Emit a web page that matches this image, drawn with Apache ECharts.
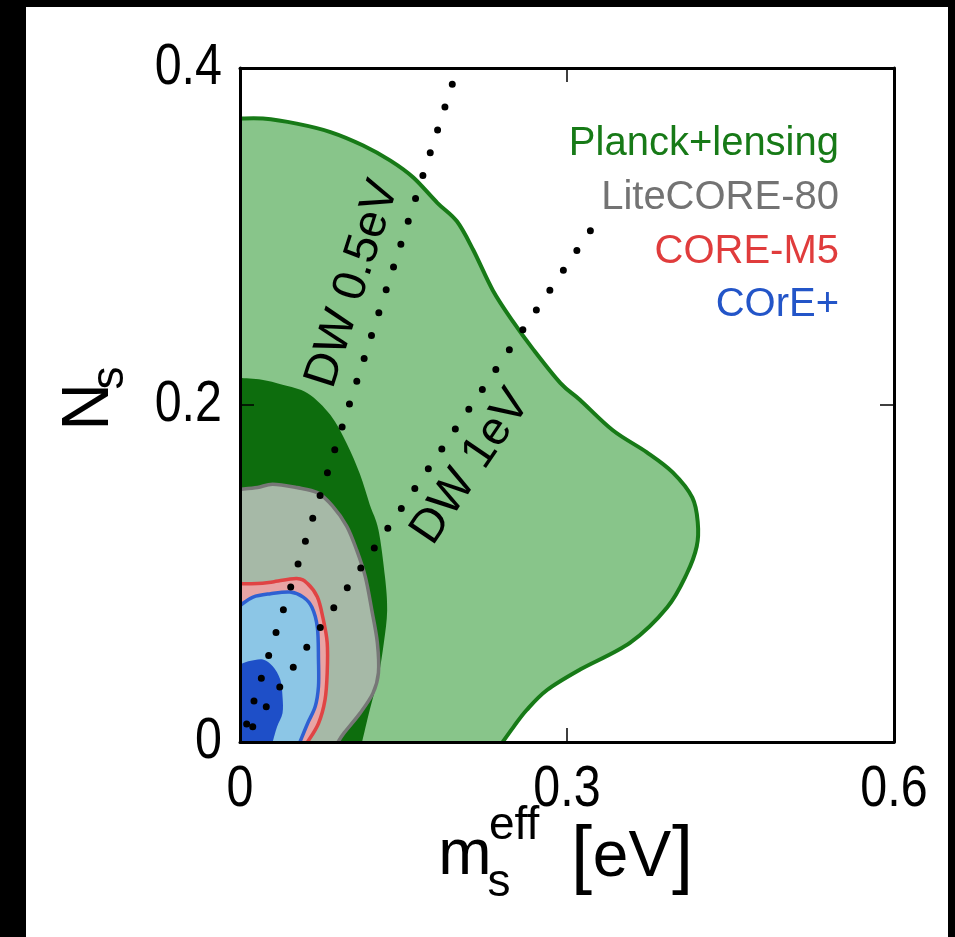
<!DOCTYPE html>
<html>
<head>
<meta charset="utf-8">
<script src="https://cdn.jsdelivr.net/npm/echarts@6/dist/echarts.min.js"></script>
<style>
  html, body { margin: 0; padding: 0; background: #000; width: 955px; height: 937px; overflow: hidden; }
  #main { position: absolute; left: 26px; top: 7px; width: 922px; height: 930px; background: #fff; }
</style>
</head>
<body>
<div id="main"></div>
<script>
// ---- tick labels ----
const xTicks = [0, 0.3, 0.6];
const yTicks = [0, 0.2, 0.4];

// ---- contour boundaries [m_s^eff, N_s] (from left axis to bottom axis) ----
const planck95 = [[0,0.370],[0.021,0.370],[0.052,0.367],[0.083,0.362],[0.113,0.354],[0.138,0.345],[0.159,0.335],[0.181,0.320],[0.199,0.309],[0.214,0.292],[0.232,0.268],[0.251,0.249],[0.269,0.233],[0.294,0.213],[0.312,0.203],[0.342,0.185],[0.373,0.172],[0.397,0.160],[0.415,0.145],[0.420,0.130],[0.419,0.116],[0.410,0.100],[0.392,0.080],[0.358,0.059],[0.312,0.043],[0.282,0.031],[0.263,0.019],[0.251,0.009],[0.241,0]];
const planck68 = [[0,0.216],[0.020,0.215],[0.039,0.212],[0.062,0.207],[0.083,0.194],[0.098,0.177],[0.110,0.159],[0.119,0.141],[0.127,0.126],[0.133,0.098],[0.135,0.078],[0.132,0.059],[0.127,0.039],[0.119,0.019],[0.112,0]];
const liteCore = [[0,0.150],[0.016,0.151],[0.030,0.153],[0.052,0.151],[0.071,0.148],[0.085,0.140],[0.098,0.128],[0.107,0.114],[0.115,0.098],[0.121,0.078],[0.126,0.059],[0.127,0.041],[0.122,0.029],[0.110,0.017],[0.095,0.005],[0.090,0]];
const coreM5 = [[0,0.094],[0.016,0.094],[0.030,0.095],[0.052,0.097],[0.062,0.094],[0.071,0.086],[0.076,0.074],[0.080,0.059],[0.080,0.041],[0.078,0.025],[0.072,0.011],[0.062,0]];
const corePlus95 = [[0,0.081],[0.012,0.086],[0.028,0.088],[0.046,0.089],[0.058,0.086],[0.066,0.080],[0.071,0.068],[0.072,0.049],[0.072,0.033],[0.069,0.021],[0.062,0.011],[0.055,0]];
const corePlus68 = [[0,0.046],[0.009,0.048],[0.021,0.049],[0.030,0.045],[0.037,0.037],[0.039,0.027],[0.039,0.017],[0.034,0.009],[0.030,0]];

// ---- Dodelson-Widrow lines ----
const dw05 = [[0.0061,0.0107],[0.1948,0.3905]];
const dw1  = [[0.0117,0.0091],[0.3218,0.3038]];

// ---- legend ----
const legendNames = ['Planck+lensing', 'LiteCORE-80', 'CORE-M5', 'COrE+'];
const legendColors = ['#177a17', '#737373', '#e03c3c', '#2355c8'];

function bezierPath(pts, close, corner) {
  let d = 'M' + pts[0][0] + ' ' + pts[0][1];
  for (let i = 0; i < pts.length - 1; i++) {
    const p0 = pts[i - 1] || pts[i], p1 = pts[i], p2 = pts[i + 1], p3 = pts[i + 2] || pts[i + 1];
    const c1 = [p1[0] + (p2[0] - p0[0]) / 6, p1[1] + (p2[1] - p0[1]) / 6];
    const c2 = [p2[0] - (p3[0] - p1[0]) / 6, p2[1] - (p3[1] - p1[1]) / 6];
    d += ' C' + c1[0] + ' ' + c1[1] + ' ' + c2[0] + ' ' + c2[1] + ' ' + p2[0] + ' ' + p2[1];
  }
  if (close) d += ' L' + corner[0] + ' ' + corner[1] + ' Z';
  return d;
}

function contourSeries(name, pts, fill, stroke, width, z) {
  return {
    type: 'custom', name: name, coordinateSystem: 'cartesian2d', z: z,
    data: [0], silent: true,
    renderItem: function (params, api) {
      const px = pts.map(p => api.coord(p));
      const corner = api.coord([xTicks[0], yTicks[0]]);
      const children = [{
        type: 'path', shape: { pathData: bezierPath(px, true, corner) },
        style: { fill: fill, stroke: null }
      }];
      if (stroke) children.push({
        type: 'path', shape: { pathData: bezierPath(px, false) },
        style: { fill: null, stroke: stroke, lineWidth: width, lineJoin: 'round' }
      });
      return { type: 'group', children: children };
    }
  };
}

const chart = echarts.init(document.getElementById('main'), null, { renderer: 'canvas' });
const sans = '"Liberation Sans", Arial, sans-serif';

function axisCommon(extra) {
  return Object.assign({
    type: 'value', z: 10,
    axisLine: { show: true, onZero: false, lineStyle: { color: '#000', width: 3 } },
    axisTick: { show: true, inside: true, length: 14, lineStyle: { color: '#000', width: 1.5 } },
    splitLine: { show: false },
    axisLabel: { show: false }
  }, extra);
}

const lineDot = (data) => ({
  type: 'line', data: data, symbol: 'none', z: 5, silent: true,
  lineStyle: { color: '#000', width: 7, type: [0, 24], cap: 'round' }
});

const txt = (t, x, y, size, color, align, rot, sx) => ({
  type: 'text', x: x, y: y, rotation: rot || 0, scaleX: sx || 1, z: 100,
  style: { text: t, fontSize: size, fontFamily: sans, fill: color || '#000', align: align || 'center', verticalAlign: 'middle' }
});

chart.setOption({
  animation: false,
  backgroundColor: '#fff',
  grid: { left: 214, right: 54, top: 61, bottom: 195, containLabel: false },
  xAxis: [
    axisCommon({ position: 'bottom', min: xTicks[0], max: xTicks[2], interval: xTicks[1] - xTicks[0] }),
    axisCommon({ position: 'top', min: xTicks[0], max: xTicks[2], interval: xTicks[1] - xTicks[0] })
  ],
  yAxis: [
    axisCommon({ position: 'left', min: yTicks[0], max: yTicks[2], interval: yTicks[1] - yTicks[0] }),
    axisCommon({ position: 'right', min: yTicks[0], max: yTicks[2], interval: yTicks[1] - yTicks[0] })
  ],
  series: [
    contourSeries('Planck 95', planck95, '#88c58a', '#177a17', 4, 1),
    contourSeries('Planck 68', planck68, '#0d6d0d', null, 0, 1),
    contourSeries('LiteCORE', liteCore, '#a6b9a7', '#777777', 3.5, 1),
    contourSeries('CORE-M5', coreM5, '#e8a4a4', '#e04444', 3.5, 1),
    contourSeries('COrE+ 95', corePlus95, '#8cc6e6', '#2e60d2', 3.5, 1),
    contourSeries('COrE+ 68', corePlus68, '#1e4fc8', null, 0, 1),
    lineDot(dw05),
    lineDot(dw1)
  ]
});

// tick labels placed through the axes' own scales (narrow lettering)
const toPx = (v) => chart.convertToPixel({ xAxisIndex: 0, yAxisIndex: 0 }, v);
const tickTexts = [];
xTicks.forEach(v => { const p = toPx([v, yTicks[0]]); tickTexts.push(txt(String(v), p[0], p[1] + 48, 57, '#000', 'center', 0, 0.85)); });
yTicks.forEach(v => { const p = toPx([xTicks[0], v]); tickTexts.push(txt(String(v), p[0] - 18, p[1], 57, '#000', 'right', 0, 0.85)); });

// annotation texts, page coordinates (group shifted by the frame offset)
const legendBase = [155, 209, 263, 316];
const annot = { type: 'group', x: -26, y: -7, children: [
  txt(legendNames[0], 839, legendBase[0] - 11, 40, legendColors[0], 'right'),
  txt(legendNames[1], 839, legendBase[1] - 11, 40, legendColors[1], 'right'),
  txt(legendNames[2], 839, legendBase[2] - 11, 40, legendColors[2], 'right'),
  txt(legendNames[3], 839, legendBase[3] - 11, 40, legendColors[3], 'right'),
  txt('DW 0.5eV', 353, 284, 47, '#000', 'center', 72.2 * Math.PI / 180),
  txt('DW 1eV', 471, 467, 47, '#000', 'center', 55.8 * Math.PI / 180),
  txt('N', 90, 407, 66, '#000', 'center', Math.PI / 2),
  txt('s', 110, 378, 46, '#000', 'center', Math.PI / 2),
  txt('m', 465, 856, 64, '#000', 'center'),
  txt('s', 499, 883, 46, '#000', 'center'),
  txt('eff', 489, 826, 46, '#000', 'left'),
  txt('[', 592, 858, 76, '#000', 'right'),
  txt('eV', 632, 858, 64, '#000', 'center'),
  txt(']', 672, 858, 76, '#000', 'left')
]};

chart.setOption({ graphic: [{ type: 'group', children: tickTexts }, annot] });
</script>
</body>
</html>
